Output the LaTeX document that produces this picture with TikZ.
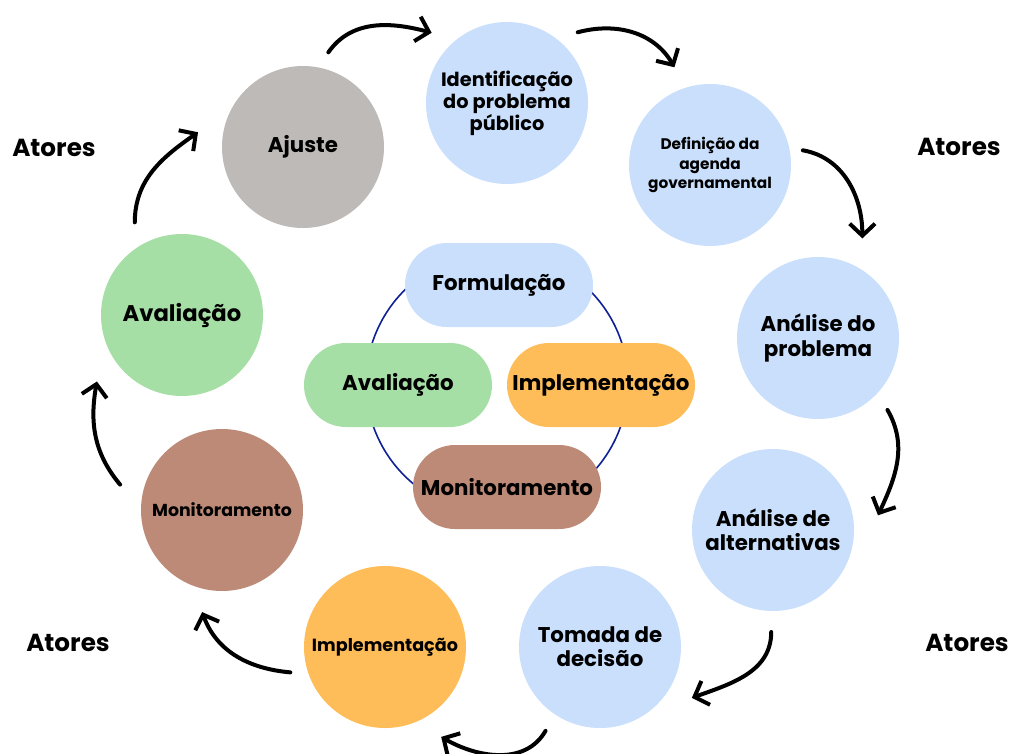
\documentclass[tikz,border=0pt]{standalone}
\usepackage{fontspec}
\setmainfont{Poppins}
\usetikzlibrary{arrows.meta}
\definecolor{azul}{RGB}{201,223,252}
\definecolor{cinza}{RGB}{190,186,184}
\definecolor{verde}{RGB}{166,223,165}
\definecolor{marrom}{RGB}{189,138,119}
\definecolor{laranja}{RGB}{254,189,89}
\definecolor{anel}{RGB}{14,32,150}
\tikzset{
  etapa/.style={circle, minimum size=121.5pt, inner sep=0pt, align=center, font=\bfseries},
  pilula/.style={rounded corners=31.5pt, minimum width=141pt, minimum height=63pt, inner sep=0pt, font=\bfseries\fontsize{16}{18}\selectfont},
  atores/.style={font=\bfseries\fontsize{18.5}{20}\selectfont},
  seta/.style={line width=3pt, line cap=round, line join=round, -{Straight Barb[length=9pt,width=19pt]}}
}
\begin{document}
\begin{tikzpicture}[x=0.75pt,y=0.75pt]
\useasboundingbox (0,0) rectangle (1012,-753);
% ciclo externo
\node (ajuste) [etapa, fill=cinza, font=\bfseries\fontsize{16}{18}\selectfont] at (303,-147) {Ajuste};
\node (ident) [etapa, fill=azul, font=\bfseries\fontsize{14.5}{16.5}\selectfont] at (507,-103) {Identificação\\do problema\\público};
\node (defin) [etapa, fill=azul, font=\bfseries\fontsize{11.5}{14.6}\selectfont] at (710,-165) {Definição da\\agenda\\governamental};
\node (analprob) [etapa, fill=azul, font=\bfseries\fontsize{16}{18.7}\selectfont] at (818,-338) {Análise do\\problema};
\node (analalt) [etapa, fill=azul, font=\bfseries\fontsize{16}{18}\selectfont] at (773,-530) {Análise de\\alternativas};
\node (tomada) [etapa, fill=azul, font=\bfseries\fontsize{16}{18}\selectfont] at (600,-647) {Tomada de\\decisão};
\node (implem) [etapa, fill=laranja, font=\bfseries\fontsize{13.2}{15}\selectfont] at (385,-647) {Implementação};
\node (monit) [etapa, fill=marrom, font=\bfseries\fontsize{13}{15}\selectfont] at (222,-510) {Monitoramento};
\node (aval) [etapa, fill=verde, font=\bfseries\fontsize{17}{19}\selectfont] at (182,-315) {Avaliação};
\node (atoresA) [atores] at (54,-148) {Atores};
\node (atoresB) [atores] at (959,-147) {Atores};
\node (atoresC) [atores] at (68,-643) {Atores};
\node (atoresD) [atores] at (967,-643) {Atores};
% setas
\draw [seta] ([shift={(75:98)}]ajuste.center) to[out=55,in=165] ([shift={(137:103)}]ident.center);
\draw [seta] ([shift={(45:100)}]ident.center) to[out=15,in=120] ([shift={(110:104)}]defin.center);
\draw [seta] ([shift={(9:94)}]defin.center) to[out=-10,in=90] ([shift={(66:109)}]analprob.center);
\draw [seta] ([shift={(-46:100)}]analprob.center) to[out=-60,in=65] ([shift={(8:106)}]analalt.center);
\draw [seta] ([shift={(-91:102)}]analalt.center) to[out=-90,in=20] ([shift={(-29:105)}]tomada.center);
\draw [seta] ([shift={(-123:100)}]tomada.center) to[out=-120,in=-30] ([shift={(-58:106)}]implem.center);
\draw [seta] ([shift={(195:98)}]implem.center) to[out=175,in=-70] ([shift={(-101:104)}]monit.center);
\draw [seta] ([shift={(166:105)}]monit.center) to[out=130,in=-100] ([shift={(-142:108)}]aval.center);
\draw [seta] ([shift={(117:104)}]aval.center) to[out=90,in=-145] ([shift={(172:106)}]ajuste.center);
% centro
\coordinate (centro) at (497,-383);
\draw [anel, line width=1.2pt] (centro) circle (131);
\node (formul) [pilula, fill=azul] at (499,-285) {Formulação};
\node (avalB) [pilula, fill=verde] at (398,-385) {Avaliação};
\node (implemB) [pilula, fill=laranja] at (601,-385) {Implementação};
\node (monitB) [pilula, fill=marrom] at (507,-487) {Monitoramento};
\end{tikzpicture}
\end{document}
